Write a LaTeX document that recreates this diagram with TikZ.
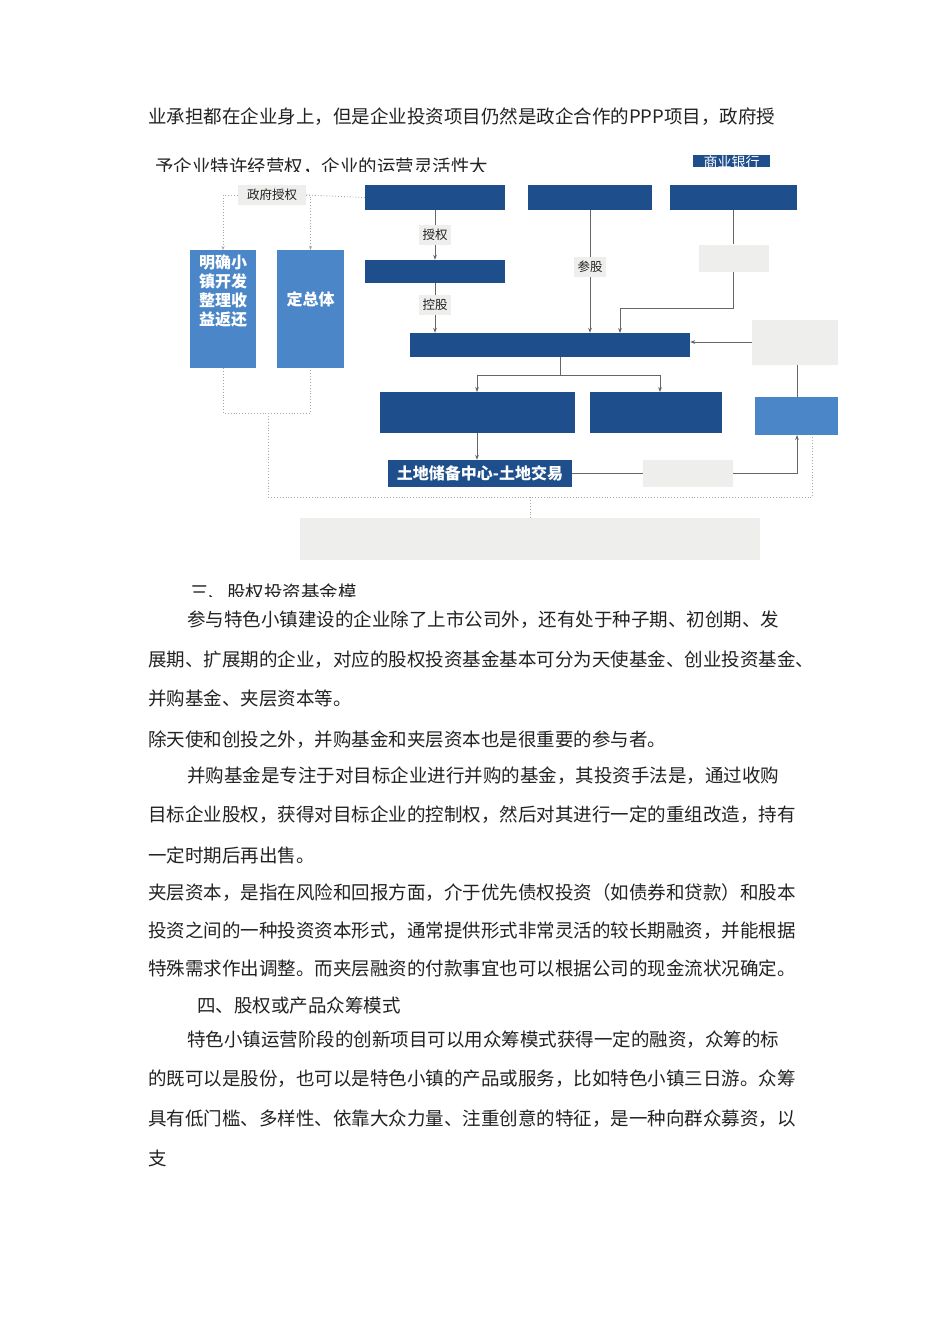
\documentclass[tikz,border=0pt]{standalone}
\usepackage{fontspec}
\setmainfont{Noto Sans CJK SC}
\usetikzlibrary{arrows.meta}
\definecolor{dkb}{HTML}{1F4E8C}
\definecolor{ltb}{HTML}{4A86C8}
\definecolor{gl}{HTML}{EEEEEC}
\definecolor{txt}{HTML}{222222}
\begin{document}
\begin{tikzpicture}[x=1pt,y=-1pt,
  body/.style={anchor=west,inner sep=0,font=\fontsize{18.5}{19}\selectfont,text=txt},
  dk/.style={fill=dkb,draw=none},
  lb/.style={fill=ltb,draw=none},
  gr/.style={fill=gl,draw=none,font=\fontsize{12.5}{13}\selectfont,text=txt},
  ar/.style={draw=gray!80!black,line width=1pt,-{Stealth[length=5pt]}},
  ln/.style={draw=gray!80!black,line width=1pt},
  dt/.style={draw=gray!70,line width=0.9pt,dotted}]
\useasboundingbox (0,0) rectangle (950,1318);
\fill[white] (0,0) rectangle (950,1318);
\node[body] (l1) at (148,117) {业承担都在企业身上，但是企业投资项目仍然是政企合作的PPP项目，政府授};
\node[body] (l2) at (155,167) {予企业特许经营权，企业的运营灵活性大};
\node[dk,minimum width=77,minimum height=12,inner sep=0,anchor=north west,text=white,font=\fontsize{14}{14}\selectfont] (bank) at (693,155) {商业银行};
\node[body] (l3) at (190,592) {三、股权投资基金模};
% clip covers
\fill[white] (140,172) rectangle (860,182);
\fill[white] (140,597) rectangle (860,604);
\fill[white] (690,167) rectangle (780,180);
% diagram boxes
\node[dk,minimum width=140,minimum height=25] (A) at (435,197.5) {};
\node[dk,minimum width=124,minimum height=25] (B) at (590,197.5) {};
\node[dk,minimum width=127,minimum height=25] (C) at (733.5,197.5) {};
\node[dk,minimum width=140,minimum height=23] (D) at (435,271.5) {};
\node[dk,minimum width=280,minimum height=24] (M) at (550,345) {};
\node[lb,minimum width=66,minimum height=118,text=white,font=\bfseries\fontsize{16}{19}\selectfont,align=center,text depth=0,anchor=north] (L1) at (223,250) {明确小\\镇开发\\整理收\\益返还\\\phantom{益返还}\\\phantom{益}};
\node[lb,minimum width=67,minimum height=118,text=white,font=\bfseries\fontsize{16}{19}\selectfont,anchor=north,align=center] (L2) at (310.5,250) {\phantom{定总体}\\定总体\\\phantom{定总体}\\\phantom{定总体}};
\node[gr,minimum width=68,minimum height=20] (gov) at (272,195) {政府授权};
\node[gr,minimum width=30,minimum height=20] (sq) at (435,235) {授权};
\node[gr,minimum width=30,minimum height=20] (kg) at (435,305) {控股};
\node[gr,minimum width=30,minimum height=20] (cg) at (590,267) {参股};
\node[gr,minimum width=70,minimum height=27] (g1) at (733.5,258) {};
\node[gr,minimum width=86,minimum height=45] (g2) at (795,342) {};
\node[dk,minimum width=195,minimum height=41] (E) at (477.5,412.5) {};
\node[dk,minimum width=132,minimum height=41] (F) at (656,412.5) {};
\node[lb,minimum width=83,minimum height=38] (R) at (796.5,416) {};
\node[dk,minimum width=184,minimum height=27,text=white,font=\bfseries\fontsize{16}{18}\selectfont] (T) at (480,473.5) {土地储备中心-土地交易};
\node[gr,minimum width=90,minimum height=27] (g3) at (688,473.5) {};
\node[gr,minimum width=460,minimum height=42] (bot) at (530,539) {};
% connectors
\draw[ln] (A.south) -- (sq.north);
\draw[ar] (sq.south) -- (D.north);
\draw[ln] (D.south) -- (kg.north);
\draw[ar] (kg.south) -- (M.north -| kg);
\draw[ln] (B.south) -- (cg.north);
\draw[ar] (cg.south) -- (M.north -| cg);
\draw[ln] (C.south) -- (g1.north);
\draw[ar] (g1.south) |- (620,308) -- (620,333);
\draw[ar] (g2.west) -- (M.east |- g2.west);
\draw[ln] (g2.south -| 797,0) -- (797,397);
\draw[ln] (560,357) -- (560,375);
\draw[ar] (477,375) -- (660,375) (477,375) -- (477,392);
\draw[ar] (660,375) -- (660,392);
\draw[ar] (E.south -| 477,0) -- (T.north -| 477,0);
\draw[ln] (T.east) -- (g3.west);
\draw[ar] (g3.east) -| (797,435);
\draw[dt] (gov.east) -- (A.west);
\draw[dt,-{Stealth[length=4pt]}] (gov.west) -| (L1.north);
\draw[dt,-{Stealth[length=4pt]}] (gov.east) -| (L2.north);
\draw[dt] (L1.south) |- (L2.south |- 0,413) -- (L2.south);
\draw[dt] (268,413) -- (268,497) -- (812,497) -- (812,435);
\draw[dt] (530,497) -- (bot.north);
% body text
\node[body] (p1) at (187,620) {参与特色小镇建设的企业除了上市公司外，还有处于种子期、初创期、发};
\node[body] (p2) at (148,660) {展期、扩展期的企业，对应的股权投资基金基本可分为天使基金、创业投资基金、};
\node[body] (p3) at (148,698) {并购基金、夹层资本等。};
\node[body] (p4) at (148,740) {除天使和创投之外，并购基金和夹层资本也是很重要的参与者。};
\node[body] (p5) at (187,776) {并购基金是专注于对目标企业进行并购的基金，其投资手法是，通过收购};
\node[body] (p6) at (148,815) {目标企业股权，获得对目标企业的控制权，然后对其进行一定的重组改造，持有};
\node[body] (p7) at (148,855) {一定时期后再出售。};
\node[body] (p8) at (148,893) {夹层资本，是指在风险和回报方面，介于优先债权投资（如债券和贷款）和股本};
\node[body] (p9) at (148,931) {投资之间的一种投资资本形式，通常提供形式非常灵活的较长期融资，并能根据};
\node[body] (p10) at (148,968) {特殊需求作出调整。而夹层融资的付款事宜也可以根据公司的现金流状况确定。};
\node[body] (p11) at (197,1005) {四、股权或产品众筹模式};
\node[body] (p12) at (187,1040) {特色小镇运营阶段的创新项目可以用众筹模式获得一定的融资，众筹的标};
\node[body] (p13) at (148,1079) {的既可以是股份，也可以是特色小镇的产品或服务，比如特色小镇三日游。众筹};
\node[body] (p14) at (148,1119) {具有低门槛、多样性、依靠大众力量、注重创意的特征，是一种向群众募资，以};
\node[body] (p15) at (148,1158) {支};
\end{tikzpicture}
\end{document}
